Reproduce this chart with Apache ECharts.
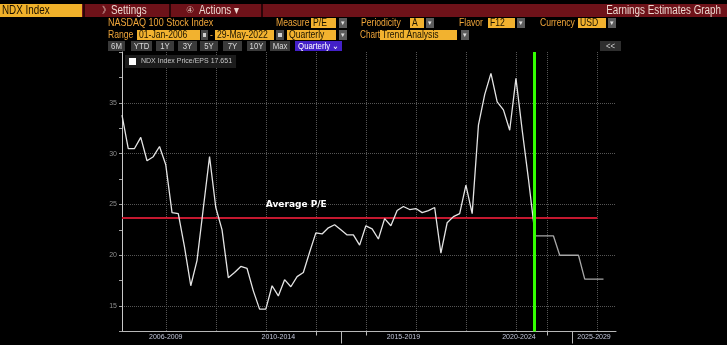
<!DOCTYPE html>
<html><head><meta charset="utf-8">
<script src="https://cdn.jsdelivr.net/npm/echarts@6/dist/echarts.min.js"></script>
<style>html,body{margin:0;padding:0;background:#000;overflow:hidden}#c{width:727px;height:345px}</style>
</head><body><div id="c"></div>
<script>
// ---------- data ----------
const quarters = [];
for (let y = 2006; y <= 2025; y++) for (let q = 1; q <= 4; q++) quarters.push(y + ' Q' + q);

const historicalPE = [33.8, 30.5, 30.5, 31.6, 29.3, 29.7, 30.7, 28.9, 24.2, 24.1,
  20.8, 17.0, 19.5, 24.6, 29.7, 24.7, 22.5, 17.8, 18.3, 18.9,
  18.7, 16.5, 14.7, 14.7, 17.0, 16.0, 17.6, 16.9, 17.9, 18.3,
  20.3, 22.2, 22.1, 22.7, 23.0, 22.5, 22.0, 22.0, 21.0, 22.9,
  22.6, 21.6, 23.6, 22.9, 24.4, 24.8, 24.5, 24.6, 24.2, 24.4,
  24.7, 20.2, 23.2, 23.8, 24.1, 26.9, 24.1, 32.8, 35.8, 37.9,
  35.1, 34.3, 32.3, 37.4, 32.3, 27.5, 22.3];
const forecastStart = 66;
const forecastPE = [21.9, 21.9, 21.9, 21.9, 20.0, 20.0, 20.0, 20.0, 17.651, 17.651, 17.651, 17.651];
const averagePE = 23.66;
const averageEndIndex = 76;
const currentIndex = 66;
const legendName = 'NDX Index Price/EPS 17.651';
const periodLabels = ['2006-2009', '2010-2014', '2015-2019', '2020-2024', '2025-2029'];
const periodLabelIdx = [7, 25, 45, 63, 75];
const periodShift = [0, 0, 0, 6, 6];
const gridIdx = [7, 15, 23, 31, 39, 47, 55, 63, 68, 76];
const shortTickIdx = [31, 39, 68];
const longTickIdx = [35, 72];
const yLabels = [15, 20, 25, 30, 35];

// ---------- build ----------
const forecastData = quarters.map((q, i) =>
  (i >= forecastStart && i < forecastStart + forecastPE.length) ? forecastPE[i - forecastStart] : null);

const FN = '"Liberation Sans",sans-serif';
const SX = 0.82;
const G = [];
function rect(x, y, w, h, fill) { G.push({ type: 'rect', silent: true, shape: { x: x, y: y, width: w, height: h }, style: { fill: fill } }); }
function txt(x, y, t, color, size, align, sx) {
  G.push({ type: 'text', silent: true, x: x, y: y, scaleX: sx == null ? SX : sx, style: {
    text: t, fill: color, font: size + 'px ' + FN,
    textAlign: align || 'left', textVerticalAlign: 'middle', align: align || 'left', verticalAlign: 'middle' } });
}
const AMBER = '#f0a63a', BOX = '#f2b22f', BOXT = '#1c1400';
function box(x, y, w, h, t) { rect(x, y, w, h, BOX); txt(x + 2, y + h / 2 + 0.5, t, BOXT, 10.5); }
function dd(x, y) { rect(x, y, 8, 10, '#5c5c5c'); txt(x + 4, y + 5, '\u25BE', '#e0e0e0', 7, 'center', 1); }
function cal(x, y, w) { rect(x, y, w, 10, '#4a4a4a'); rect(x + 2, y + 3, w - 4, 4, '#d0d0d0'); }

// row 1
rect(0, 4, 82, 13, '#f0b12a');
txt(2, 11, 'NDX Index', '#1a1000', 12);
rect(82, 4, 645, 13, '#6e1219');
rect(83, 4, 2, 13, '#2a0508'); rect(169, 4, 2, 13, '#2a0508'); rect(261, 4, 2, 13, '#2a0508');
txt(102, 11, '\u300B', '#e8cfc7', 9, 'left', 1);
txt(111, 11, 'Settings', '#ecd8d0', 12);
txt(186, 11, '\u2463', '#d9b9b0', 9, 'left', 1);
txt(199, 11, 'Actions \u25BE', '#ecd8d0', 12);
txt(721, 11, 'Earnings Estimates Graph', '#ecd8d0', 12, 'right');
// row 2
txt(108, 23, 'NASDAQ 100 Stock Index', AMBER, 11);
txt(276, 23, 'Measure', AMBER, 10.5); box(311, 18, 25, 10, 'P/E'); dd(339, 18);
txt(361, 23, 'Periodicity', AMBER, 10.5); box(410, 18, 14, 10, 'A'); dd(426, 18);
txt(459, 23, 'Flavor', AMBER, 10.5); box(488, 18, 27, 10, 'F12'); dd(517, 18);
txt(540, 23, 'Currency', AMBER, 10.5); box(578, 18, 28, 10, 'USD'); dd(608, 18);
// row 3
txt(108, 35, 'Range', AMBER, 10.5);
box(137, 30, 63, 10, '01-Jan-2006'); cal(201, 30, 7);
txt(210, 35, '-', AMBER, 10.5);
box(215, 30, 59, 10, '29-May-2022'); cal(276, 30, 8);
box(287, 30, 49, 10, 'Quarterly'); dd(339, 30);
txt(360, 35, 'Chart', AMBER, 10);
box(380, 30, 77, 10, 'Trend Analysis'); dd(461, 30);
// row 4
[['6M', 108, 17], ['YTD', 131, 21], ['1Y', 156, 18], ['3Y', 178, 19], ['5Y', 200, 18],
 ['7Y', 223, 19], ['10Y', 247, 19], ['Max', 270, 20]].forEach(function (b) {
  rect(b[1], 41, b[2], 10, '#3a3a3a'); txt(b[1] + b[2] / 2, 46.5, b[0], '#d8d8d8', 9.5, 'center');
});
rect(295, 41, 47, 10, '#4320c8'); txt(318.5, 46.5, 'Quarterly \u2304', '#ffffff', 9.5, 'center');
rect(600, 41, 21, 10, '#2e2e2e'); txt(610.5, 46.5, '<<', '#d0d0d0', 9.5, 'center');

const option = {
  backgroundColor: '#000',
  animation: false,
  graphic: G,
  grid: { left: 122, right: 111, top: 52, bottom: 13.5 },
  legend: {
    data: [legendName], left: 125, top: 55, padding: [3, 4, 3, 4], backgroundColor: '#1c1c1c',
    icon: 'rect', itemWidth: 7, itemHeight: 7, itemGap: 5, selectedMode: false,
    textStyle: { color: '#c8c8c8', fontSize: 7, fontFamily: 'Liberation Sans' }
  },
  xAxis: [{
    type: 'category', data: quarters, boundaryGap: false,
    axisLine: { lineStyle: { color: '#b8b8b8', width: 1 } },
    axisTick: { show: true, interval: function (i) { return shortTickIdx.indexOf(i) >= 0; }, length: 4, lineStyle: { color: '#b8b8b8' } },
    axisLabel: {
      interval: function (i) { return periodLabelIdx.indexOf(i) >= 0; },
      formatter: function (v, i) { const k = periodLabelIdx.indexOf(i); return k < 0 ? '' : (periodShift[k] ? '{s|' + periodLabels[k] + '}' : periodLabels[k]); },
      color: '#c4c8dc', fontSize: 7, fontFamily: 'Liberation Sans', margin: 2,
      rich: { s: { color: '#c4c8dc', fontSize: 7, fontFamily: 'Liberation Sans', padding: [0, 0, 0, 6] } }
    },
    splitLine: { show: true, interval: function (i) { return gridIdx.indexOf(i) >= 0; }, lineStyle: { color: '#555', type: 'dotted', width: 1 } }
  }, {
    type: 'category', data: quarters, boundaryGap: false, position: 'bottom',
    axisLine: { show: false }, axisLabel: { show: false }, splitLine: { show: false },
    axisTick: { show: true, interval: function (i) { return longTickIdx.indexOf(i) >= 0; }, length: 12, lineStyle: { color: '#b8b8b8' } }
  }],
  yAxis: {
    type: 'value', min: 12.5, max: 40, interval: 2.5,
    axisLine: { show: true, lineStyle: { color: '#c8c8c8' } },
    axisTick: { show: true, length: 3, lineStyle: { color: '#a0a0a0' } },
    axisLabel: { color: '#8e8e8e', fontSize: 7, fontFamily: 'Liberation Sans', margin: 5,
      formatter: function (v) { return yLabels.indexOf(v) >= 0 ? String(v) : ''; } },
    splitLine: { show: true, showMinLine: false, showMaxLine: false, lineStyle: { color: ['#555', 'transparent'], type: 'dotted', width: 1 } }
  },
  series: [{
    name: legendName, type: 'line', data: historicalPE, symbol: 'none', silent: true, z: 3,
    itemStyle: { color: '#ffffff' }, lineStyle: { color: '#e4e4e4', width: 1.3 },
    markLine: {
      silent: true, symbol: 'none', label: { show: false }, z: 2,
      lineStyle: { color: '#c4182f', width: 2, type: 'solid' },
      data: [[{ coord: [quarters[0], averagePE] }, { coord: [quarters[averageEndIndex], averagePE] }]]
    },
    markPoint: {
      silent: true, symbol: 'rect', symbolSize: 0,
      data: [{ coord: [quarters[23], 25], label: { show: true, position: 'right', distance: 0, formatter: 'Average P/E',
        color: '#ffffff', fontWeight: 'bold', fontSize: 9, fontFamily: 'DejaVu Sans' } }]
    }
  }, {
    name: 'forecast', type: 'line', data: forecastData, symbol: 'none', silent: true, z: 4,
    lineStyle: { color: '#a8a8a8', width: 1.3 }, itemStyle: { color: '#a8a8a8' },
    markLine: {
      silent: true, symbol: 'none', label: { show: false },
      lineStyle: { color: '#33ff00', width: 3, type: 'solid' },
      data: [{ xAxis: quarters[currentIndex] }]
    }
  }]
};
echarts.init(document.getElementById('c'), null, { renderer: 'canvas' }).setOption(option);
</script>
</body></html>
